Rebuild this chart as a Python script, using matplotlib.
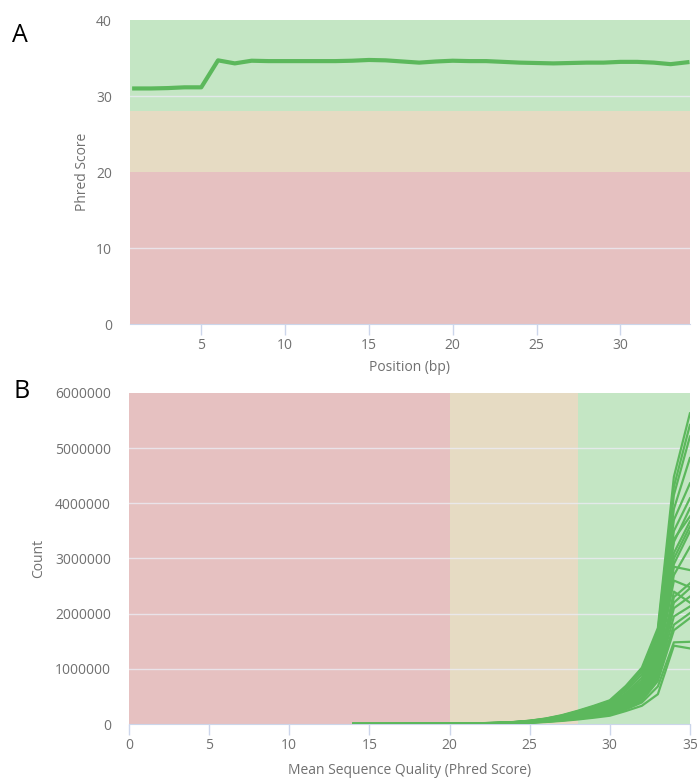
import matplotlib.pyplot as plt
import numpy as np

plt.rcParams['font.family'] = ['Open Sans', 'DejaVu Sans']

# panel A: per-base mean quality
positions = list(range(1, 35))
mean_quality = [31.0, 31.0, 31.05, 31.15, 31.15, 34.7, 34.3, 34.65, 34.6, 34.6,
                34.6, 34.6, 34.6, 34.65, 34.75, 34.7, 34.55, 34.4, 34.55, 34.65,
                34.6, 34.6, 34.5, 34.4, 34.35, 34.3, 34.35, 34.4, 34.4, 34.5,
                34.5, 34.4, 34.2, 34.45]

# panel B: per-sequence quality counts (thousands), quality 14..35
qualities = list(range(14, 36))
seq_counts = [
    [0, 0, 1, 1, 2, 3, 5, 9, 15, 24, 36, 60, 100, 160, 240, 330, 430, 690, 1020, 1740, 4480, 5630],
    [0, 0, 1, 1, 2, 3, 5, 9, 14, 23, 35, 58, 96, 152, 230, 318, 415, 660, 980, 1680, 4300, 5420],
    [0, 0, 1, 1, 2, 3, 5, 8, 14, 22, 34, 56, 92, 148, 222, 305, 400, 640, 950, 1620, 4150, 5210],
    [0, 0, 0, 1, 1, 2, 4, 7, 12, 20, 31, 52, 86, 138, 208, 290, 380, 600, 900, 1550, 3900, 4820],
    [0, 0, 0, 1, 1, 2, 4, 7, 12, 19, 30, 50, 82, 130, 196, 272, 355, 560, 840, 1480, 3700, 4360],
    [0, 0, 0, 1, 1, 2, 4, 7, 11, 18, 28, 48, 78, 124, 186, 258, 335, 530, 790, 1420, 3500, 4090],
    [0, 0, 0, 1, 1, 2, 4, 6, 11, 18, 27, 46, 75, 118, 178, 246, 320, 505, 750, 1360, 3300, 3910],
    [0, 0, 0, 0, 1, 2, 3, 6, 10, 17, 26, 44, 72, 114, 170, 236, 305, 480, 720, 1320, 3350, 3760],
    [0, 0, 0, 0, 1, 2, 3, 6, 10, 16, 25, 42, 69, 109, 162, 226, 292, 460, 690, 1280, 3100, 3670],
    [0, 0, 0, 0, 1, 2, 3, 6, 10, 16, 24, 41, 67, 105, 156, 218, 282, 445, 665, 1250, 3000, 3580],
    [0, 0, 0, 0, 1, 1, 3, 5, 9, 15, 23, 40, 65, 102, 150, 210, 272, 430, 640, 1220, 2900, 3490],
    [0, 0, 0, 0, 1, 1, 3, 5, 9, 15, 22, 38, 62, 98, 144, 200, 260, 410, 610, 1180, 2700, 3210],
    [0, 0, 0, 0, 1, 1, 3, 5, 9, 14, 22, 37, 60, 95, 140, 194, 252, 398, 590, 1150, 2850, 2790],
    [0, 0, 0, 0, 1, 1, 2, 5, 8, 14, 21, 36, 58, 92, 135, 188, 244, 385, 570, 1110, 2600, 2480],
    [0, 0, 0, 0, 1, 1, 2, 5, 8, 13, 20, 34, 56, 88, 130, 180, 234, 370, 550, 1060, 2300, 2550],
    [0, 0, 0, 0, 0, 1, 2, 4, 8, 13, 20, 33, 54, 85, 125, 174, 226, 356, 530, 1020, 2200, 2460],
    [0, 0, 0, 0, 0, 1, 2, 4, 7, 12, 19, 32, 52, 82, 120, 168, 218, 342, 505, 980, 2400, 2200],
    [0, 0, 0, 0, 0, 1, 2, 4, 7, 12, 18, 30, 50, 78, 115, 160, 208, 328, 485, 930, 2100, 2310],
    [0, 0, 0, 0, 0, 1, 2, 4, 7, 11, 17, 29, 48, 75, 110, 153, 198, 312, 460, 880, 1950, 2130],
    [0, 0, 0, 0, 0, 1, 2, 4, 6, 10, 16, 28, 46, 72, 105, 146, 190, 298, 440, 830, 1800, 2010],
    [0, 0, 0, 0, 0, 1, 2, 3, 6, 10, 15, 26, 44, 68, 100, 140, 182, 285, 420, 780, 1700, 1920],
    [0, 0, 0, 0, 0, 1, 1, 3, 5, 9, 14, 25, 41, 64, 94, 130, 170, 265, 390, 680, 1480, 1490],
    [0, 0, 0, 0, 0, 1, 1, 3, 5, 8, 12, 22, 36, 56, 82, 114, 150, 235, 330, 540, 1420, 1370],
]

green_band = '#c4e6c4'
tan_band = '#e6dbc3'
red_band = '#e6c1c1'
line_green = '#5cb85c'
tick_gray = '#707070'
axis_blue = '#ccd6eb'
grid_col = '#ececf4'

fig = plt.figure(figsize=(6.99, 7.78), dpi=100)
ax1 = fig.add_axes([0.186, 0.5835, 0.801, 0.3907])
ax2 = fig.add_axes([0.1845, 0.0694, 0.8025, 0.4255])


def style_axis(ax):
    for side in ['top', 'right', 'left']:
        ax.spines[side].set_visible(False)
    ax.spines['bottom'].set_color(axis_blue)
    ax.tick_params(axis='x', colors=axis_blue, length=8, width=1, labelcolor=tick_gray, labelsize=10, pad=2)
    ax.tick_params(axis='y', length=0, labelcolor=tick_gray, labelsize=10, pad=13)


# panel A
ax1.axhspan(28, 40, color=green_band, lw=0, zorder=0)
ax1.axhspan(20, 28, color=tan_band, lw=0, zorder=0)
ax1.axhspan(0, 20, color=red_band, lw=0, zorder=0)
for yv in [10, 30]:
    ax1.axhline(yv, color=grid_col, lw=1, alpha=0.8, zorder=1)
ax1.plot(positions, mean_quality, color=line_green, lw=3, zorder=3)
ax1.set_xlim(0.75, 34.15)
ax1.set_ylim(0, 40)
ax1.set_xticks([5, 10, 15, 20, 25, 30])
ax1.set_yticks([0, 10, 20, 30, 40])
style_axis(ax1)
ax1.set_xlabel('Position (bp)', color=tick_gray, fontsize=10, labelpad=5)
ax1.set_ylabel('Phred Score', color=tick_gray, fontsize=10, labelpad=4)

# panel B
ax2.axvspan(0, 20, color=red_band, lw=0, zorder=0)
ax2.axvspan(20, 28, color=tan_band, lw=0, zorder=0)
ax2.axvspan(28, 35, color=green_band, lw=0, zorder=0)
for yv in [1e6, 2e6, 3e6, 4e6, 5e6]:
    ax2.axhline(yv, color=grid_col, lw=1, alpha=0.8, zorder=1)
for counts in seq_counts:
    ax2.plot(qualities, np.array(counts) * 1000, color=line_green, lw=1.6, zorder=3)
ax2.set_xlim(0, 35)
ax2.set_ylim(0, 6000000)
ax2.set_xticks(range(0, 36, 5))
ax2.set_yticks([0, 1000000, 2000000, 3000000, 4000000, 5000000, 6000000])
ax2.set_yticklabels(['0', '1000000', '2000000', '3000000', '4000000', '5000000', '6000000'])
style_axis(ax2)
ax2.set_xlabel('Mean Sequence Quality (Phred Score)', color=tick_gray, fontsize=10, labelpad=7)
ax2.set_ylabel('Count', color=tick_gray, fontsize=10, labelpad=6)

fig.text(12 / 699, 1 - 35 / 778, 'A', fontsize=18, color='black', va='center', ha='left')
fig.text(14 / 699, 1 - 392 / 778, 'B', fontsize=18, color='black', va='center', ha='left')

fig.savefig('out.png', dpi=100, facecolor='white')
